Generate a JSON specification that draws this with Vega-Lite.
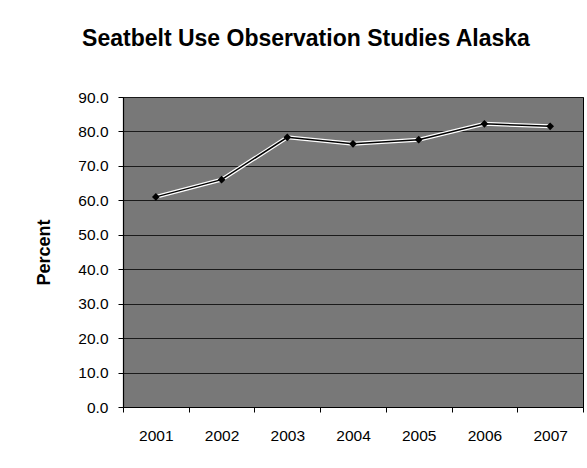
{
  "$schema": "https://vega.github.io/schema/vega-lite/v6.json",
  "autosize": {"type": "none"},
  "width": 460,
  "height": 310,
  "padding": {"left": 123, "top": 97, "right": 4, "bottom": 61},
  "background": "white",
  "title": {
    "text": "Seatbelt Use Observation Studies Alaska",
    "font": "Liberation Sans",
    "fontSize": 23,
    "fontWeight": "bold",
    "color": "#000",
    "anchor": "middle",
    "dx": -47,
    "offset": 39
  },
  "config": {
    "view": {"fill": "#787878", "stroke": "#000", "strokeWidth": 1},
    "axis": {
      "labelFont": "Liberation Sans",
      "titleFont": "Liberation Sans",
      "labelColor": "#000",
      "titleColor": "#000",
      "domainColor": "#000",
      "tickColor": "#000",
      "domainWidth": 1.2,
      "tickSize": 5
    }
  },
  "data": {
    "values": [
      {"year": "2001", "percent": 61.0},
      {"year": "2002", "percent": 66.0},
      {"year": "2003", "percent": 78.3},
      {"year": "2004", "percent": 76.4},
      {"year": "2005", "percent": 77.6},
      {"year": "2006", "percent": 82.2},
      {"year": "2007", "percent": 81.5}
    ]
  },
  "encoding": {
    "x": {
      "field": "year",
      "type": "nominal",
      "bandPosition": 0.5,
      "scale": {"type": "band", "paddingInner": 0, "paddingOuter": 0},
      "axis": {
        "title": null,
        "labelAngle": 0,
        "labelFontSize": 15.5,
        "labelPadding": 16,
        "tickBand": "extent",
        "grid": false
      }
    },
    "y": {
      "field": "percent",
      "type": "quantitative",
      "scale": {"domain": [0, 90]},
      "axis": {
        "title": "Percent",
        "titleFontSize": 18,
        "titleFontWeight": "bold",
        "titlePadding": 24,
        "values": [0, 10, 20, 30, 40, 50, 60, 70, 80, 90],
        "format": ".1f",
        "labelFontSize": 15.5,
        "labelPadding": 10,
        "grid": true,
        "gridColor": "#1a1a1a",
        "gridWidth": 1
      }
    }
  },
  "layer": [
    {"mark": {"type": "line", "color": "white", "strokeWidth": 4}},
    {"mark": {"type": "line", "color": "black", "strokeWidth": 1.5}},
    {"mark": {"type": "point", "shape": "diamond", "filled": true, "color": "black", "size": 60, "opacity": 1}}
  ]
}
